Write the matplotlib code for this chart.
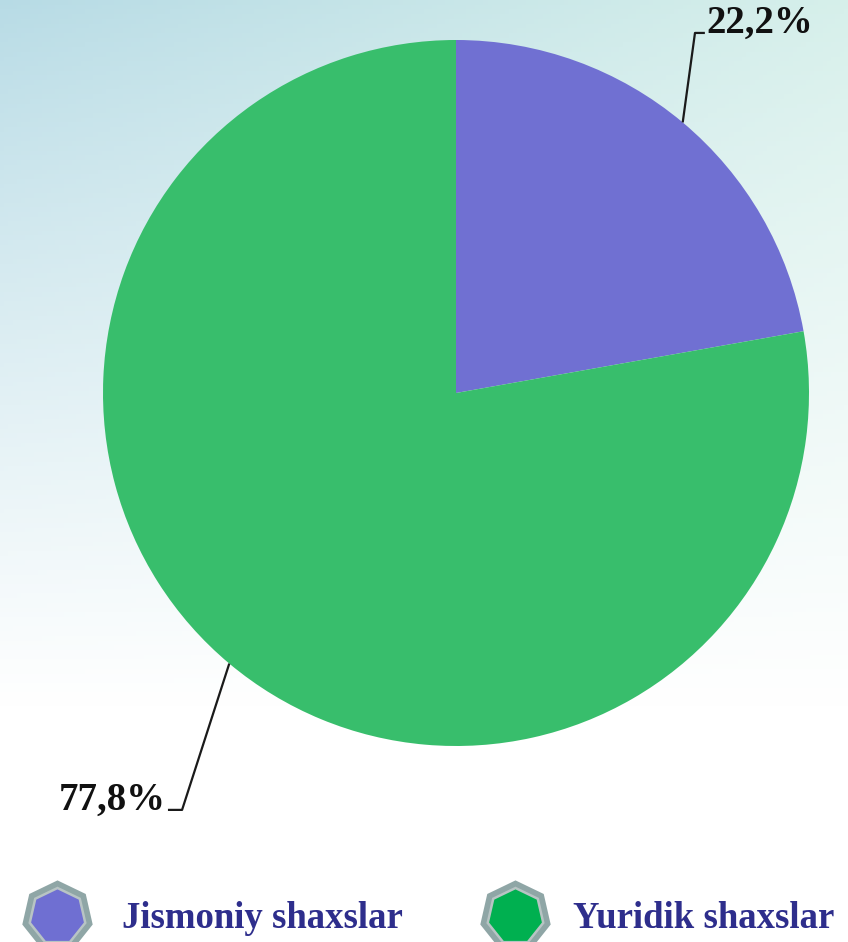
import numpy as np
import matplotlib
matplotlib.use("Agg")
import matplotlib.pyplot as plt

categories = ["Jismoniy shaxslar", "Yuridik shaxslar"]
values = [22.2, 77.8]
labels = ["22,2%", "77,8%"]
colors = ["#7070D2", "#38BE6C"]
legend_inner = ["#6F6FD2", "#00B050"]

W, H = 848, 942
fig = plt.figure(figsize=(W / 100, H / 100), dpi=100)

# background gradient
bg = fig.add_axes([0, 0, 1, 1], zorder=0)
yy, xx = np.mgrid[0:1:200j, 0:1:200j]
c_tl = np.array([0.72, 0.86, 0.90])
c_tr = np.array([0.84, 0.94, 0.92])
c_white = np.array([1.0, 1.0, 1.0])
t = np.clip(yy / 0.75, 0, 1)[..., None] ** 0.9
top = c_tl * (1 - xx[..., None]) + c_tr * xx[..., None]
img = top * (1 - t) + c_white * t
bg.imshow(img, extent=[0, 1, 0, 1], origin="upper", aspect="auto")
# faint decorative arcs
for k in range(8):
    th = np.linspace(0.3, 1.2, 100)
    r = 0.9 + 0.12 * k
    bg.plot(0.2 + r * np.cos(th + 1.6), 1.45 - 0.6 * r * np.sin(th) + 0.05 * k,
            color="white", alpha=0.35, lw=1.2)
bg.set_xlim(0, 1)
bg.set_ylim(0, 1)
bg.axis("off")

cx, cy, R = 456, 393, 353
ax = fig.add_axes([(cx - R) / W, (H - cy - R) / H, 2 * R / W, 2 * R / H], zorder=1)
ax.set_facecolor("none")
wedges, _ = ax.pie(values, colors=colors, startangle=90, counterclock=False,
                   radius=1.0, wedgeprops=dict(linewidth=0))
ax.set_xlim(-1, 1)
ax.set_ylim(-1, 1)
ax.set_aspect("equal")
ax.axis("off")

serif = ["Liberation Serif", "DejaVu Serif"]

# leader lines and labels
elbows = [(0.677, 1.020, 0.028), (-0.776, -1.181, -0.040)]
for w, lab, (ex, ey, hx) in zip(wedges, labels, elbows):
    mid = np.deg2rad((w.theta1 + w.theta2) / 2)
    sx, sy = np.cos(mid), np.sin(mid)
    ax.plot([sx, ex, ex + hx], [sy, ey, ey], color="#1a1a1a", lw=1.6,
            clip_on=False, solid_capstyle="butt")
    ha = "left" if hx > 0 else "right"
    ax.text(ex + hx + (0.004 if hx > 0 else -0.006), ey, lab, ha=ha, va="baseline",
            fontsize=28, fontweight="bold", family=serif, color="#111111")

# legend
lg = fig.add_axes([0, 0, 1, 1], zorder=2)
lg.set_xlim(0, W)
lg.set_ylim(H, 0)
lg.axis("off")
for i, (name, col) in enumerate(zip(categories, legend_inner)):
    mx = [57, 515][i]
    my = 916
    lg.plot(mx, my, marker=(7, 0, 0), ms=52, color="#8FA6A6", mec="none", clip_on=False)
    lg.plot(mx, my, marker=(7, 0, 0), ms=43, color="#B8C4C4", mec="none", clip_on=False)
    lg.plot(mx, my, marker=(7, 0, 0), ms=39, color=col, mec="none", clip_on=False)
    lg.text([122, 573][i], 928, name, ha="left", va="baseline", fontsize=26.5,
            fontweight="bold", family=serif, color="#2E2E8C")

fig.savefig("out.png", dpi=100)
